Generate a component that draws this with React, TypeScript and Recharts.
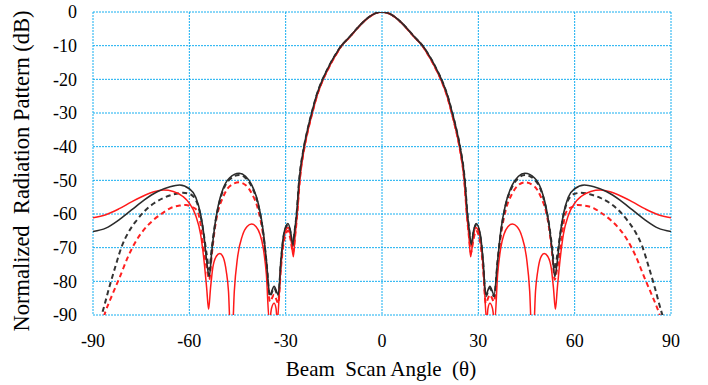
import React from 'react';
import { LineChart, Line, XAxis, YAxis, CartesianGrid } from 'recharts';

// [angle (deg), normalized pattern (dB)]
const BLACK_SOLID: [number, number][] = [
  [-90, -65.2], [-86, -64.2], [-82, -61.8], [-78, -58.8], [-74, -55.8], [-70, -53.4], [-66, -51.9], [-63, -51.4],
  [-60, -52.5], [-58, -55], [-56.5, -60], [-55.5, -66], [-54.6, -74], [-53.8, -78.6], [-53, -71], [-52, -63],
  [-51, -57.5], [-49.5, -52.5], [-47.5, -49.3], [-44.5, -47.9], [-42.5, -48.8], [-40.5, -51.5], [-38.5, -57],
  [-37, -65], [-36, -74], [-34.9, -84], [-33.6, -81.5], [-32.3, -84], [-31.5, -74], [-30.6, -66], [-29.3, -62.8],
  [-28.5, -65], [-27.8, -69], [-27.2, -65], [-26.6, -60], [-25.8, -50], [-24.3, -40], [-23.2, -35], [-21.9, -30],
  [-20.3, -24.5], [-18.5, -20], [-17, -17], [-15.7, -14.6], [-14.2, -12.2], [-12.8, -10.2], [-10, -7.3], [-8, -5.1],
  [-6, -3.1], [-4, -1.45], [-2, -0.35],
  [0, 0],
  [2, -0.35], [4, -1.45], [6, -3.1], [8, -5.1], [10, -7.3], [12.8, -10.2], [14.2, -12.2], [15.7, -14.6], [17, -17],
  [18.5, -20], [20.3, -24.5], [21.9, -30], [23.2, -35], [24.3, -40], [25.8, -50], [26.6, -60], [27.2, -65],
  [27.8, -69], [28.5, -65], [29.3, -62.8], [30.6, -66], [31.5, -74], [32.3, -84], [33.6, -81.5], [34.9, -84],
  [36, -74], [37, -65], [38.5, -57], [40.5, -51.5], [42.5, -48.8], [44.5, -47.9], [47.5, -49.3], [49.5, -52.5],
  [51, -57.5], [52, -63], [53, -71], [53.8, -78.6], [54.6, -74], [55.5, -66], [56.5, -60], [58, -55], [60, -52.5],
  [63, -51.4], [66, -51.9], [70, -53.4], [74, -55.8], [78, -58.8], [82, -61.8], [86, -64.2], [90, -65.2],
];

const BLACK_DASHED: [number, number][] = [
  [-90, -96], [-88, -92], [-87, -89], [-85, -82], [-83, -75.5], [-81, -69.5], [-79, -65.5], [-76.5, -62], [-74, -59.2],
  [-71, -56.8], [-68, -55.2], [-65, -54.2], [-62, -53.7], [-60, -54], [-58, -55.8], [-56.5, -60.5], [-55.5, -66],
  [-54.6, -72], [-53.8, -76.5], [-53, -70], [-52, -63], [-51, -58], [-49.5, -53], [-47.5, -49.8], [-44.5, -48.4],
  [-42.5, -49.3], [-40.5, -52], [-38.5, -57.5], [-37, -65.5], [-36, -74], [-34.9, -84.5], [-33.6, -82], [-32.3, -84.5],
  [-31.5, -74.5], [-30.6, -66.5], [-29.3, -63.3], [-28.5, -65.5], [-27.8, -69.5], [-27.2, -65], [-26.6, -60],
  [-25.8, -50], [-24.3, -40], [-23.2, -35], [-21.9, -30], [-20.3, -24.5], [-18.5, -20], [-17, -17], [-15.7, -14.6],
  [-14.2, -12.2], [-12.8, -10.2], [-10, -7.3], [-8, -5.1], [-6, -3.1], [-4, -1.45], [-2, -0.35],
  [0, 0],
  [2, -0.35], [4, -1.45], [6, -3.1], [8, -5.1], [10, -7.3], [12.8, -10.2], [14.2, -12.2], [15.7, -14.6], [17, -17],
  [18.5, -20], [20.3, -24.5], [21.9, -30], [23.2, -35], [24.3, -40], [25.8, -50], [26.6, -60], [27.2, -65],
  [27.8, -69.5], [28.5, -65.5], [29.3, -63.3], [30.6, -66.5], [31.5, -74.5], [32.3, -84.5], [33.6, -82],
  [34.9, -84.5], [36, -74], [37, -65.5], [38.5, -57.5], [40.5, -52], [42.5, -49.3], [44.5, -48.4], [47.5, -49.8],
  [49.5, -53], [51, -58], [52, -63], [53, -70], [53.8, -76.5], [54.6, -72], [55.5, -66], [56.5, -60.5], [58, -55.8],
  [60, -54], [62, -53.7], [65, -54.2], [68, -55.2], [71, -56.8], [74, -59.2], [76.5, -62], [79, -65.5], [81, -69.5],
  [83, -75.5], [85, -82], [87, -89], [88, -92], [90, -96],
];

const RED_SOLID: [number, number][] = [
  [-90, -61.1], [-86, -60.2], [-82, -58.5], [-78, -56.4], [-74, -54.5], [-71, -53.4], [-68, -52.9], [-65, -53.3],
  [-62, -54.8], [-60, -56.8], [-58, -60.5], [-56.5, -66], [-55.3, -75], [-54.6, -82], [-54, -88.3], [-53.4, -82],
  [-52.7, -76], [-51.7, -72.7], [-50.5, -71.7], [-49.4, -73], [-48.5, -77], [-47.8, -83], [-47.2, -95], [-46.6, -95],
  [-46, -83], [-45, -73], [-43.5, -66.5], [-42, -63.7], [-40.6, -63], [-39.2, -63.8], [-38, -66], [-37, -70],
  [-36, -78], [-35.1, -92], [-34.4, -88], [-33.6, -86.5], [-33, -88], [-32.6, -92], [-31.8, -80], [-31, -70],
  [-30, -65], [-29.2, -64], [-28.4, -67], [-27.6, -72.7], [-27.1, -67], [-26.4, -60], [-25.6, -50], [-24.1, -40],
  [-23, -35], [-21.7, -30], [-20.1, -24.5], [-18.3, -20], [-16.8, -17], [-15.5, -14.6], [-14, -12.2], [-12.7, -10.2],
  [-10, -7.4], [-8, -5.2], [-6, -3.15], [-4, -1.5], [-2, -0.37],
  [0, 0],
  [2, -0.37], [4, -1.5], [6, -3.15], [8, -5.2], [10, -7.4], [12.7, -10.2], [14, -12.2], [15.5, -14.6], [16.8, -17],
  [18.3, -20], [20.1, -24.5], [21.7, -30], [23, -35], [24.1, -40], [25.6, -50], [26.4, -60], [27.1, -67],
  [27.6, -72.7], [28.4, -67], [29.2, -64], [30, -65], [31, -70], [31.8, -80], [32.6, -92], [33, -88], [33.6, -86.5],
  [34.4, -88], [35.1, -92], [36, -78], [37, -70], [38, -66], [39.2, -63.8], [40.6, -63], [42, -63.7], [43.5, -66.5],
  [45, -73], [46, -83], [46.6, -95], [47.2, -95], [47.8, -83], [48.5, -77], [49.4, -73], [50.5, -71.7], [51.7, -72.7],
  [52.7, -76], [53.4, -82], [54, -88.3], [54.6, -82], [55.3, -75], [56.5, -66], [58, -60.5], [60, -56.8], [62, -54.8],
  [65, -53.3], [68, -52.9], [71, -53.4], [74, -54.5], [78, -56.4], [82, -58.5], [86, -60.2], [90, -61.1],
];

const RED_DASHED: [number, number][] = [
  [-90, -100], [-88, -95], [-86.3, -89.5], [-84, -84], [-81.6, -78.6], [-79, -72.5], [-76.4, -67.7], [-74, -64.5],
  [-71.2, -61.8], [-68, -59.5], [-66, -58.3], [-63, -57.5], [-61, -57.3], [-59.5, -57.8], [-57.7, -58.8],
  [-56.5, -63], [-55.6, -70], [-54.6, -76], [-53.8, -79.5], [-53, -72], [-52, -64], [-51, -59], [-49.5, -55],
  [-47.5, -51.8], [-44.5, -50.6], [-42.5, -51.4], [-40.5, -54], [-38.5, -59], [-37, -66.5], [-36, -75], [-34.9, -86],
  [-33.6, -84], [-32.3, -86.5], [-31.5, -76.5], [-30.6, -68.5], [-29.3, -65], [-28.5, -67.5], [-27.7, -71.5],
  [-27.1, -67], [-26.4, -60], [-25.6, -50], [-24.1, -40], [-23, -35], [-21.7, -30], [-20.1, -24.5], [-18.3, -20],
  [-16.8, -17], [-15.5, -14.6], [-14, -12.2], [-12.7, -10.2], [-10, -7.4], [-8, -5.2], [-6, -3.15], [-4, -1.5],
  [-2, -0.37],
  [0, 0],
  [2, -0.37], [4, -1.5], [6, -3.15], [8, -5.2], [10, -7.4], [12.7, -10.2], [14, -12.2], [15.5, -14.6], [16.8, -17],
  [18.3, -20], [20.1, -24.5], [21.7, -30], [23, -35], [24.1, -40], [25.6, -50], [26.4, -60], [27.1, -67],
  [27.7, -71.5], [28.5, -67.5], [29.3, -65], [30.6, -68.5], [31.5, -76.5], [32.3, -86.5], [33.6, -84], [34.9, -86],
  [36, -75], [37, -66.5], [38.5, -59], [40.5, -54], [42.5, -51.4], [44.5, -50.6], [47.5, -51.8], [49.5, -55],
  [51, -59], [52, -64], [53, -72], [53.8, -79.5], [54.6, -76], [55.6, -70], [56.5, -63], [57.7, -58.8], [59.5, -57.8],
  [61, -57.3], [63, -57.5], [66, -58.3], [68, -59.5], [71.2, -61.8], [74, -64.5], [76.4, -67.7], [79, -72.5],
  [81.6, -78.6], [84, -84], [86.3, -89.5], [88, -95], [90, -100],
];

const X_TICKS = [-90, -60, -30, 0, 30, 60, 90];
const Y_TICKS = [0, -10, -20, -30, -40, -50, -60, -70, -80, -90];

const toPoints = (arr: [number, number][]) => arr.map(([x, y]) => ({ x, y }));

const FONT = '"Times New Roman", "Liberation Serif", "DejaVu Serif", serif';
const GRID = '#14aef0';

const App = () => {
  return (
    <div style={{ position: 'relative', width: 708, height: 385, background: '#fff', fontFamily: FONT }}>
      <style>{'body{margin:0}'}</style>
      <LineChart width={708} height={385} margin={{ top: 12, right: 37, bottom: 0, left: 0 }}>
        <CartesianGrid stroke={GRID} strokeDasharray="2 1" strokeWidth={1} />
        <XAxis
          dataKey="x"
          type="number"
          domain={[-90, 90]}
          ticks={X_TICKS}
          allowDataOverflow
          height={70}
          axisLine={false}
          tickLine={false}
          tickMargin={13}
          tick={{ fill: '#000', fontSize: 18, fontFamily: FONT }}
        />
        <YAxis
          type="number"
          domain={[-90, 0]}
          ticks={Y_TICKS}
          allowDataOverflow
          width={93}
          axisLine={false}
          tickLine={false}
          tickMargin={10}
          tick={{ fill: '#000', fontSize: 18, fontFamily: FONT }}
        />
        <Line data={toPoints(RED_DASHED)} dataKey="y" type="monotone" stroke="#ff2020" strokeWidth={2}
          strokeDasharray="5 3.5" dot={false} isAnimationActive={false} />
        <Line data={toPoints(BLACK_DASHED)} dataKey="y" type="monotone" stroke="#333" strokeWidth={2}
          strokeDasharray="5 3.5" dot={false} isAnimationActive={false} />
        <Line data={toPoints(RED_SOLID)} dataKey="y" type="monotone" stroke="#ff1a1a" strokeWidth={1.5}
          dot={false} isAnimationActive={false} />
        <Line data={toPoints(BLACK_SOLID)} dataKey="y" type="monotone" stroke="#2b2b2b" strokeWidth={1.6}
          dot={false} isAnimationActive={false} />
      </LineChart>
      <div
        style={{
          position: 'absolute', left: 22, top: 171, transform: 'translate(-50%, -50%) rotate(-90deg)',
          whiteSpace: 'pre', fontSize: 22.5, color: '#000', fontFamily: FONT,
        }}
      >
        {'Normalized  Radiation Pattern (dB)'}
      </div>
      <div
        style={{
          position: 'absolute', left: 381, top: 369, transform: 'translate(-50%, -50%)',
          whiteSpace: 'pre', fontSize: 21, color: '#000', fontFamily: FONT,
        }}
      >
        {'Beam  Scan Angle  (θ)'}
      </div>
    </div>
  );
};

export default App;
